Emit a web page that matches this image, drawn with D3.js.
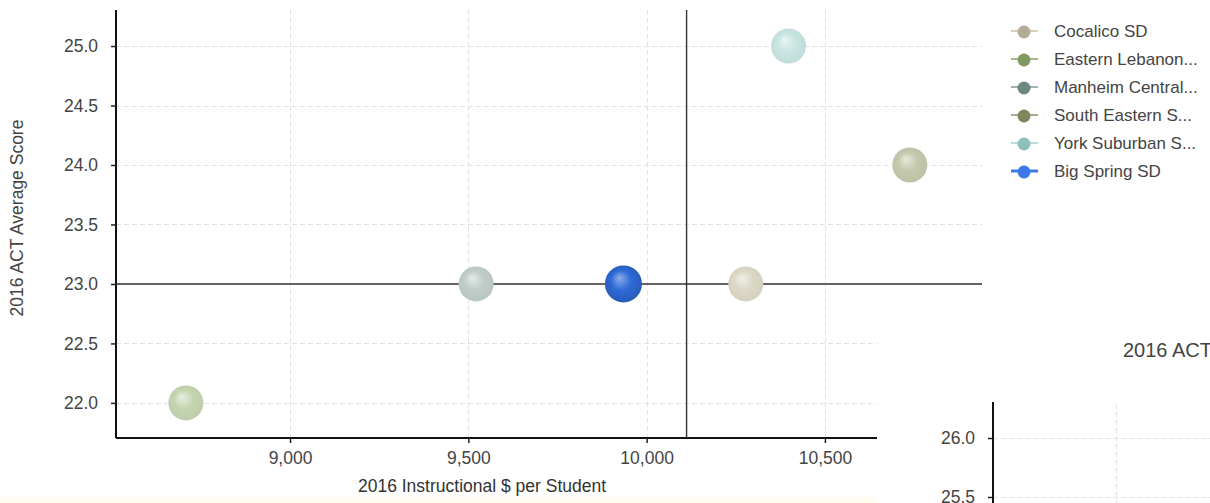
<!DOCTYPE html>
<html><head><meta charset="utf-8">
<script src="https://cdn.jsdelivr.net/npm/d3@7"></script>
<style>
html,body{margin:0;padding:0;background:#fff;}
svg{display:block;font-family:"Liberation Sans",Arimo,Arial,sans-serif;}
</style></head>
<body>
<svg id="c" width="1210" height="503"></svg>
<script>
// ---- data ----
const districts = ["Cocalico SD","Eastern Lebanon...","Manheim Central...","South Eastern S...","York Suburban S...","Big Spring SD"];
const spending  = [10278, 8708, 9522, 10738, 10398, 9935];
const actScore  = [23.0, 22.0, 23.0, 24.0, 25.0, 23.0];
const bubbleColors = ["#dcd8c6","#c5d5b0","#c0cdc9","#c4c9ad","#c8e5e1","#2e6ad6"];
const legendDot    = ["#b5ab97","#7e9a60","#6e8683","#7f865d","#8fc0bc","#3b79e6"];
const legendLine   = ["#d9cfba","#9fba85","#9fb3b0","#a9ae88","#b9dcd8","#3b79e6"];
const xTicks = [9000, 9500, 10000, 10500];
const yTicks = [22.0, 22.5, 23.0, 23.5, 24.0, 24.5, 25.0];
const avgSpending = 10112, avgScore = 23.0;
const panel2Ticks = [25.5, 26.0];

const svg = d3.select("#c");
const defs = svg.append("defs");

const x = d3.scaleLinear().domain([8512, 10646]).range([116, 877]);
const y = d3.scaleLinear().domain([21.705, 25.303]).range([438, 10]);
const gridRight = 982;

// bottom yellow strip
svg.append("rect").attr("x",0).attr("y",497).attr("width",877).attr("height",6).attr("fill","#fffdf0");

// gradients
bubbleColors.forEach((c,i)=>{
  const g = defs.append("radialGradient").attr("id","g"+i)
    .attr("cx","50%").attr("cy","50%").attr("r","55%").attr("fx","38%").attr("fy","32%");
  const base = d3.color(c);
  g.append("stop").attr("offset","0%").attr("stop-color", d3.interpolateRgb(c,"#ffffff")(i===5?0.45:0.6));
  g.append("stop").attr("offset","50%").attr("stop-color", c);
  g.append("stop").attr("offset","100%").attr("stop-color", base.darker(i===5?0.5:0.12));
});

// grid
const grid = svg.append("g").attr("stroke","#e3e3e3").attr("stroke-width",1).attr("stroke-dasharray","5,3");
grid.selectAll("line.h").data(yTicks).join("line")
  .attr("x1",116).attr("x2",d=> y(d) > 300 ? 877 : gridRight)
  .attr("y1",d=>Math.round(y(d))+0.5).attr("y2",d=>Math.round(y(d))+0.5);
grid.selectAll("line.v").data(xTicks).join("line")
  .attr("y1",10).attr("y2",438)
  .attr("x1",d=>Math.round(x(d))+0.5).attr("x2",d=>Math.round(x(d))+0.5);

// axes
const yAxis = d3.axisLeft(y).tickValues(yTicks).tickFormat(d3.format(".1f")).tickSize(5).tickPadding(13);
const xAxis = d3.axisBottom(x).tickValues(xTicks).tickFormat(d3.format(",")).tickSize(5).tickPadding(4);
const gy = svg.append("g").attr("transform","translate(116,0)").call(yAxis);
const gx = svg.append("g").attr("transform","translate(0,438)").call(xAxis);
[gy,gx].forEach(g=>{
  g.select(".domain").attr("stroke","#111").attr("stroke-width",2);
  g.selectAll(".tick line").attr("stroke","#222").attr("stroke-width",1.5);
  g.selectAll("text").attr("fill","#444").style("font-size","17.5px").attr("font-family",null);
});
gy.select(".domain").attr("d","M0,10V438");
gx.select(".domain").attr("d","M116,0H877");
gx.selectAll("text").attr("dy","0.95em");

// axis titles
svg.append("text").attr("x",482).attr("y",492).attr("text-anchor","middle")
  .attr("fill","#333").style("font-size","17.5px").text("2016 Instructional $ per Student");
svg.append("text").attr("transform","translate(23,218) rotate(-90)").attr("text-anchor","middle")
  .attr("fill","#444").style("font-size","17.5px").text("2016 ACT Average Score");

// reference lines
svg.append("line").attr("x1",116).attr("x2",gridRight).attr("y1",y(avgScore)).attr("y2",y(avgScore))
  .attr("stroke","#333").attr("stroke-width",1.4);
svg.append("line").attr("x1",x(avgSpending)).attr("x2",x(avgSpending)).attr("y1",10).attr("y2",438)
  .attr("stroke","#333").attr("stroke-width",1.4);

// bubbles
const idx = d3.range(districts.length);
svg.append("g").selectAll("circle").data(idx).join("circle")
  .attr("cx",i=>x(spending[i])).attr("cy",i=>y(actScore[i]))
  .attr("r",i=> i===5 ? 18.5 : 17.5)
  .attr("fill",i=>"url(#g"+i+")");

// legend
const leg = svg.append("g");
idx.forEach(i=>{
  const ly = 31 + i*28;
  leg.append("line").attr("x1",1011).attr("x2",1038).attr("y1",ly).attr("y2",ly)
    .attr("stroke",legendLine[i]).attr("stroke-width", i===5?3:2);
  leg.append("circle").attr("cx",1024).attr("cy",ly+1).attr("r",6.5).attr("fill",legendDot[i]);
  leg.append("text").attr("x",1054).attr("y",ly+6).attr("fill","#444")
    .style("font-size","17px").text(districts[i]);
});

// second panel (partially visible, as in the reference)
const p2 = svg.append("g");
p2.append("rect").attr("x",878).attr("y",300).attr("width",332).attr("height",203).attr("fill","#fff");
p2.append("text").attr("x",1123).attr("y",357).attr("fill","#444").style("font-size","20px").text("2016 ACT");
const y2 = d3.scaleLinear().domain([25.5, 26.0]).range([497, 438]);
const g2grid = p2.append("g").attr("stroke","#e3e3e3").attr("stroke-dasharray","5,3");
g2grid.selectAll("line.h").data(panel2Ticks).join("line")
  .attr("x1",993).attr("x2",1210).attr("y1",d=>y2(d)+0.5).attr("y2",d=>y2(d)+0.5);
g2grid.append("line").attr("x1",1116.5).attr("x2",1116.5).attr("y1",404).attr("y2",503);
const g2 = p2.append("g").attr("transform","translate(993,0)")
  .call(d3.axisLeft(y2).tickValues(panel2Ticks).tickFormat(d3.format(".1f")).tickSize(5).tickPadding(13));
g2.select(".domain").attr("d","M0,402V503").attr("stroke","#111").attr("stroke-width",2);
g2.selectAll(".tick line").attr("stroke","#222").attr("stroke-width",1.5);
g2.selectAll("text").attr("fill","#444").style("font-size","17.5px").attr("font-family",null);
</script>
</body></html>
